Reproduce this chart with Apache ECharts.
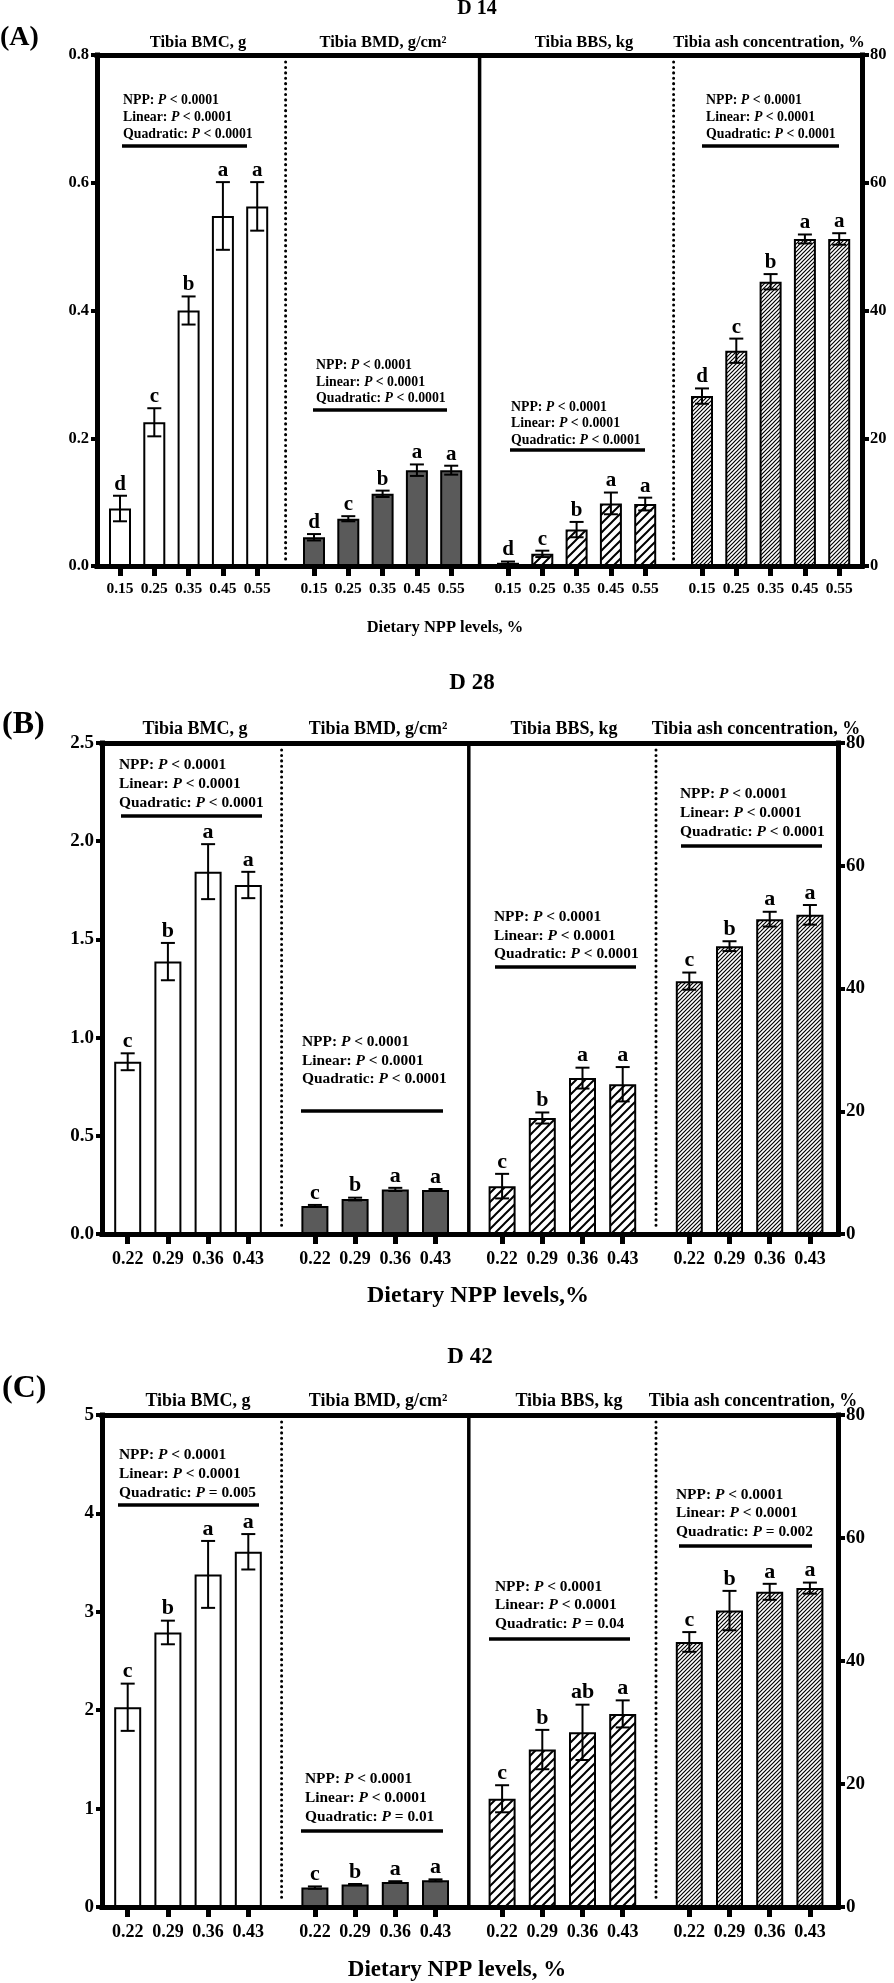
<!DOCTYPE html>
<html><head><meta charset="utf-8">
<script src="https://cdn.jsdelivr.net/npm/echarts@6/dist/echarts.min.js"></script>
<style>html,body{margin:0;padding:0;background:#fff}#c{width:894px;height:1983px}</style>
</head><body><div id="c"></div>
<script>
// ---------------- DATA ----------------
const catsA = ['0.15', '0.25', '0.35', '0.45', '0.55'];
const catsBC = ['0.22', '0.29', '0.36', '0.43'];
const leftTicksA = [0, 0.2, 0.4, 0.6, 0.8];
const leftTicksB = [0, 0.5, 1.0, 1.5, 2.0, 2.5];
const leftTicksC = [0, 1, 2, 3, 4, 5];
const rightTicks = [0, 20, 40, 60, 80];

// D 14
const bmcA = [0.090, 0.225, 0.400, 0.548, 0.563];
const bmcErrA = [0.020, 0.022, 0.022, 0.053, 0.038];
const bmcLetA = ['d', 'c', 'b', 'a', 'a'];
const bmdA = [0.045, 0.074, 0.113, 0.150, 0.150];
const bmdErrA = [0.005, 0.004, 0.005, 0.009, 0.007];
const bmdLetA = ['d', 'c', 'b', 'a', 'a'];
const bbsA = [0.5, 1.9, 5.7, 9.8, 9.7];
const bbsErrA = [0.2, 0.5, 1.2, 1.7, 1.0];
const bbsLetA = ['d', 'c', 'b', 'a', 'a'];
const ashA = [26.6, 33.7, 44.5, 51.2, 51.2];
const ashErrA = [1.2, 1.9, 1.2, 0.7, 0.9];
const ashLetA = ['d', 'c', 'b', 'a', 'a'];

// D 28
const bmcB = [0.877, 1.387, 1.845, 1.777];
const bmcErrB = [0.043, 0.095, 0.14, 0.067];
const bmcLetB = ['c', 'b', 'a', 'a'];
const bmdB = [0.143, 0.178, 0.227, 0.224];
const bmdErrB = [0.005, 0.007, 0.008, 0.005];
const bmdLetB = ['c', 'b', 'a', 'a'];
const bbsB = [7.8, 18.9, 25.4, 24.4];
const bbsErrB = [2.0, 0.9, 1.7, 2.8];
const bbsLetB = ['c', 'b', 'a', 'a'];
const ashB = [41.2, 46.9, 51.3, 52.0];
const ashErrB = [1.4, 0.8, 1.2, 1.6];
const ashLetB = ['c', 'b', 'a', 'a'];

// D 42
const bmcC = [2.03, 2.79, 3.38, 3.61];
const bmcErrC = [0.24, 0.12, 0.34, 0.18];
const bmcLetC = ['c', 'b', 'a', 'a'];
const bmdC = [0.197, 0.228, 0.254, 0.271];
const bmdErrC = [0.012, 0.006, 0.008, 0.010];
const bmdLetC = ['c', 'b', 'a', 'a'];
const bbsC = [17.6, 25.6, 28.4, 31.4];
const bbsErrC = [2.2, 3.2, 4.5, 2.2];
const bbsLetC = ['c', 'b', 'ab', 'a'];
const ashC = [43.1, 48.2, 51.25, 51.85];
const ashErrC = [1.6, 3.2, 1.3, 0.9];
const ashLetC = ['c', 'b', 'a', 'a'];

const groupTitles = ['Tibia BMC, g', 'Tibia BMD, g/cm²', 'Tibia BBS, kg', 'Tibia ash concentration, %'];
const pAll = [['NPP', '<', '0.0001'], ['Linear', '<', '0.0001'], ['Quadratic', '<', '0.0001']];
const annTextA = [pAll, pAll, pAll, pAll];
const annTextB = [pAll, pAll, pAll, pAll];
const annTextC = [
  [['NPP', '<', '0.0001'], ['Linear', '<', '0.0001'], ['Quadratic', '=', '0.005']],
  [['NPP', '<', '0.0001'], ['Linear', '<', '0.0001'], ['Quadratic', '=', '0.01']],
  [['NPP', '<', '0.0001'], ['Linear', '<', '0.0001'], ['Quadratic', '=', '0.04']],
  [['NPP', '<', '0.0001'], ['Linear', '<', '0.0001'], ['Quadratic', '=', '0.002']]
];

// ---------------- STYLE / LAYOUT ----------------
const FONT = '"Liberation Serif","Times New Roman",serif';
function hatch(s, w) {
  const c = document.createElement('canvas');
  c.width = s; c.height = s;
  const g = c.getContext('2d');
  g.fillStyle = '#fff'; g.fillRect(0, 0, s, s);
  g.strokeStyle = '#000'; g.lineWidth = w;
  g.beginPath();
  g.moveTo(0, s); g.lineTo(s, 0);
  g.moveTo(-s / 2, s / 2); g.lineTo(s / 2, -s / 2);
  g.moveTo(s / 2, s * 1.5); g.lineTo(s * 1.5, s / 2);
  g.stroke();
  return c;
}
const FILL_WHITE = '#ffffff';
const FILL_GRAY = '#5a5a5a';
const FILL_WIDE = { image: hatch(9, 2), repeat: 'repeat' };
const FILL_DENSE = { image: hatch(4, 1.2), repeat: 'repeat' };

const panels = [
  {
    cats: catsA, l: 97, r: 862, t: 55, b: 566, g0: 102.85, stride: 194, slot: 34.3, barW: 22,
    lTicks: leftTicksA, lDec: 1, tfs: 15.5, lm: 15, afs: 16.5, letfs: 21, capHW: 7,
    groups: [
      { v: bmcA, e: bmcErrA, L: bmcLetA, fill: FILL_WHITE, right: false },
      { v: bmdA, e: bmdErrA, L: bmdLetA, fill: FILL_GRAY, right: false },
      { v: bbsA, e: bbsErrA, L: bbsLetA, fill: FILL_WIDE, right: true },
      { v: ashA, e: ashErrA, L: ashLetA, fill: FILL_DENSE, right: true }
    ],
    tag: '(A)', tagX: 0, tagY: 38, tagFs: 28,
    day: 'D 14', dayX: 477, dayY: 9, dayFs: 20,
    titleY: 43, titleFs: 16.5, titleX: [198, 383, 584, 769],
    xTitle: 'Dietary NPP levels, %', xTitleX: 445, xTitleY: 628, xTitleFs: 16.5,
    ann: annTextA, annFs: 13.8,
    annPos: [
      { x: 123, y: [100, 117, 134], uy: 146, u1: 122, u2: 247 },
      { x: 316, y: [365, 382, 398], uy: 410, u1: 313, u2: 447 },
      { x: 511, y: [407, 423, 440], uy: 450, u1: 510, u2: 645 },
      { x: 706, y: [100, 117, 134], uy: 146, u1: 702, u2: 839 }
    ]
  },
  {
    cats: catsBC, l: 102, r: 838, t: 743, b: 1234, g0: 107.6, stride: 187.2, slot: 40.2, barW: 27,
    lTicks: leftTicksB, lDec: 1, tfs: 18, lm: 16, afs: 19, letfs: 22, capHW: 7,
    groups: [
      { v: bmcB, e: bmcErrB, L: bmcLetB, fill: FILL_WHITE, right: false },
      { v: bmdB, e: bmdErrB, L: bmdLetB, fill: FILL_GRAY, right: false },
      { v: bbsB, e: bbsErrB, L: bbsLetB, fill: FILL_WIDE, right: true },
      { v: ashB, e: ashErrB, L: ashLetB, fill: FILL_DENSE, right: true }
    ],
    tag: '(B)', tagX: 2, tagY: 725, tagFs: 32,
    day: 'D 28', dayX: 472, dayY: 683, dayFs: 23,
    titleY: 729, titleFs: 18, titleX: [195, 378, 564, 756],
    xTitle: 'Dietary NPP levels,%', xTitleX: 478, xTitleY: 1296, xTitleFs: 24,
    ann: annTextB, annFs: 15.4,
    annPos: [
      { x: 119, y: [765, 784, 803], uy: 816, u1: 121, u2: 262 },
      { x: 302, y: [1042, 1061, 1079], uy: 1111, u1: 301, u2: 443 },
      { x: 494, y: [917, 936, 954], uy: 967, u1: 495, u2: 636 },
      { x: 680, y: [794, 813, 832], uy: 846, u1: 681, u2: 822 }
    ]
  },
  {
    cats: catsBC, l: 102, r: 838, t: 1415, b: 1907, g0: 107.6, stride: 187.2, slot: 40.2, barW: 27,
    lTicks: leftTicksC, lDec: 0, tfs: 18, lm: 16, afs: 19, letfs: 22, capHW: 7,
    groups: [
      { v: bmcC, e: bmcErrC, L: bmcLetC, fill: FILL_WHITE, right: false },
      { v: bmdC, e: bmdErrC, L: bmdLetC, fill: FILL_GRAY, right: false },
      { v: bbsC, e: bbsErrC, L: bbsLetC, fill: FILL_WIDE, right: true },
      { v: ashC, e: ashErrC, L: ashLetC, fill: FILL_DENSE, right: true }
    ],
    tag: '(C)', tagX: 2, tagY: 1389, tagFs: 32,
    day: 'D 42', dayX: 470, dayY: 1357, dayFs: 23,
    titleY: 1401, titleFs: 18, titleX: [198, 378, 569, 753],
    xTitle: 'Dietary NPP levels, %', xTitleX: 457, xTitleY: 1970, xTitleFs: 23,
    ann: annTextC, annFs: 15.4,
    annPos: [
      { x: 119, y: [1455, 1474, 1493], uy: 1505, u1: 118, u2: 259 },
      { x: 305, y: [1779, 1798, 1817], uy: 1831, u1: 301, u2: 443 },
      { x: 495, y: [1587, 1605, 1624], uy: 1639, u1: 489, u2: 630 },
      { x: 676, y: [1495, 1513, 1532], uy: 1546, u1: 679, u2: 812 }
    ]
  }
];

function errItem(lets, fs, hw) {
  return function (params, api) {
    const i = api.value(0), m = api.value(1), e = api.value(2);
    const t = api.coord([i, m + e]);
    const b = api.coord([i, Math.max(0, m - e)]);
    const ls = { stroke: '#000', lineWidth: 2 };
    return {
      type: 'group', children: [
        { type: 'line', shape: { x1: t[0], y1: t[1], x2: b[0], y2: b[1] }, style: ls },
        { type: 'line', shape: { x1: t[0] - hw, y1: t[1], x2: t[0] + hw, y2: t[1] }, style: ls },
        { type: 'line', shape: { x1: b[0] - hw, y1: b[1], x2: b[0] + hw, y2: b[1] }, style: ls },
        {
          type: 'text', x: t[0], y: t[1] - 1,
          style: {
            text: lets[params.dataIndex], fontFamily: FONT, fontWeight: 'bold', fontSize: fs,
            fill: '#000', align: 'center', verticalAlign: 'bottom'
          }
        }
      ]
    };
  };
}

const option = { animation: false, backgroundColor: '#fff', grid: [], xAxis: [], yAxis: [], series: [], graphic: { elements: [] } };
const G = option.graphic.elements;
const lbl = (fs) => ({ fontFamily: FONT, fontWeight: 'bold', fontSize: fs, color: '#000' });

panels.forEach(P => {
  const fg = option.grid.length;
  option.grid.push({ left: P.l, top: P.t, width: P.r - P.l, height: P.b - P.t, outerBoundsMode: 'none' });
  const axLine = { show: true, onZero: false, lineStyle: { color: '#000', width: 5, cap: 'square' } };
  ['bottom', 'top'].forEach(pos => option.xAxis.push({
    gridIndex: fg, type: 'value', position: pos, min: 0, max: 1, axisLine: axLine,
    axisTick: { show: false }, axisLabel: { show: false }, splitLine: { show: false }
  }));
  const lStep = P.lTicks[1] - P.lTicks[0];
  option.yAxis.push({
    gridIndex: fg, type: 'value', position: 'left', min: P.lTicks[0], max: P.lTicks[P.lTicks.length - 1], interval: lStep,
    axisLine: axLine, axisTick: { show: true, length: 6, lineStyle: { width: 4, color: '#000' } },
    axisLabel: Object.assign(lbl(P.afs), { margin: 8, formatter: v => v.toFixed(P.lDec) }), splitLine: { show: false }
  });
  option.yAxis.push({
    gridIndex: fg, type: 'value', position: 'right', min: rightTicks[0], max: rightTicks[rightTicks.length - 1],
    interval: rightTicks[1] - rightTicks[0],
    axisLine: axLine, axisTick: { show: true, length: 7, lineStyle: { width: 4, color: '#000' } },
    axisLabel: Object.assign(lbl(P.afs), { margin: 8 }), splitLine: { show: false }
  });

  P.groups.forEach((g, k) => {
    const gi = option.grid.length;
    const left = P.g0 + k * P.stride;
    const w = P.cats.length * P.slot;
    option.grid.push({ left: left, top: P.t, width: w, height: P.b - P.t, outerBoundsMode: 'none' });
    const xi = option.xAxis.length;
    option.xAxis.push({
      gridIndex: gi, type: 'category', data: P.cats, axisLine: { show: false, onZero: false },
      axisTick: { show: true, alignWithLabel: true, length: 10, lineStyle: { width: 5, color: '#000' } },
      axisLabel: Object.assign(lbl(P.tfs), { interval: 0, margin: P.lm }), splitLine: { show: false }
    });
    const yi = option.yAxis.length;
    option.yAxis.push({
      gridIndex: gi, type: 'value', show: false,
      min: g.right ? rightTicks[0] : P.lTicks[0],
      max: g.right ? rightTicks[rightTicks.length - 1] : P.lTicks[P.lTicks.length - 1]
    });
    option.series.push({
      type: 'bar', xAxisIndex: xi, yAxisIndex: yi, data: g.v, barWidth: P.barW, silent: true,
      itemStyle: { color: g.fill, borderColor: '#000', borderWidth: 2 }
    });
    option.series.push({
      type: 'custom', xAxisIndex: xi, yAxisIndex: yi, silent: true, z: 4,
      data: g.v.map((v, i) => [i, v, g.e[i]]), renderItem: errItem(g.L, P.letfs, P.capHW)
    });
    if (k < 3) {
      const sx = left + w + (P.stride - w) / 2;
      if (k === 1) {
        G.push({ type: 'line', shape: { x1: sx, y1: P.t, x2: sx, y2: P.b }, style: { stroke: '#000', lineWidth: 3.5 } });
      } else {
        G.push({ type: 'line', shape: { x1: sx, y1: P.t + 7, x2: sx, y2: P.b - 6 }, style: { stroke: '#000', lineWidth: 3, lineDash: [0.1, 5.3], lineCap: 'round' } });
      }
    }
    G.push({ type: 'text', x: P.titleX[k], y: P.titleY, style: { text: groupTitles[k], fontFamily: FONT, fontWeight: 'bold', fontSize: P.titleFs, fill: '#000', align: 'center', verticalAlign: 'middle' } });
    const ap = P.annPos[k];
    P.ann[k].forEach((ln, j) => {
      G.push({
        type: 'text', x: ap.x, y: ap.y[j],
        style: {
          text: '{b|' + ln[0] + ': }{i|P}{b| ' + ln[1] + ' ' + ln[2] + '}',
          rich: {
            b: { fontFamily: FONT, fontWeight: 'bold', fontSize: P.annFs, fill: '#000' },
            i: { fontFamily: FONT, fontWeight: 'bold', fontStyle: 'italic', fontSize: P.annFs, fill: '#000' }
          },
          align: 'left', verticalAlign: 'middle'
        }
      });
    });
    G.push({ type: 'line', shape: { x1: ap.u1, y1: ap.uy, x2: ap.u2, y2: ap.uy }, style: { stroke: '#000', lineWidth: 3.5 } });
  });

  G.push({ type: 'text', x: P.tagX, y: P.tagY, style: { text: P.tag, fontFamily: FONT, fontWeight: 'bold', fontSize: P.tagFs, fill: '#000', align: 'left', verticalAlign: 'middle' } });
  G.push({ type: 'text', x: P.dayX, y: P.dayY, style: { text: P.day, fontFamily: FONT, fontWeight: 'bold', fontSize: P.dayFs, fill: '#000', align: 'center', verticalAlign: 'middle' } });
  G.push({ type: 'text', x: P.xTitleX, y: P.xTitleY, style: { text: P.xTitle, fontFamily: FONT, fontWeight: 'bold', fontSize: P.xTitleFs, fill: '#000', align: 'center', verticalAlign: 'middle' } });
});

const chart = echarts.init(document.getElementById('c'), null, { renderer: 'canvas', width: 894, height: 1983 });
chart.setOption(option);
</script>
</body></html>
